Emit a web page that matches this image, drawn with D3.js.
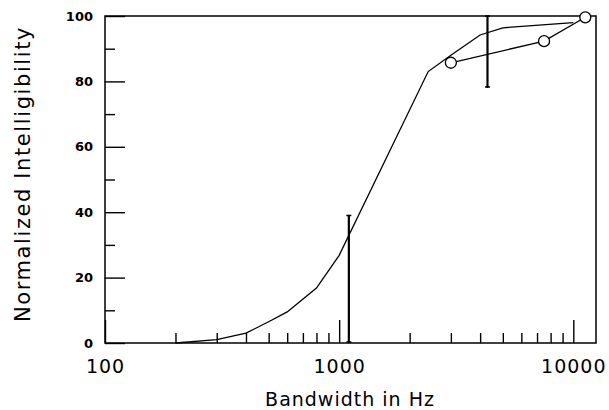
<!DOCTYPE html>
<html>
<head>
<meta charset="utf-8">
<script src="https://cdn.jsdelivr.net/npm/d3@7"></script>
<style>
  html, body { margin: 0; padding: 0; background: #fff; }
  svg { display: block; }
  .axis path.domain { display: none; }
  .axis line { stroke: #000; stroke-width: 1.4px; }
</style>
</head>
<body>
<div id="chart"></div>
<script>
// smooth curve (no markers)
const curveFreq = [200, 300, 400, 500, 600, 800, 1000, 2400, 3000, 4000, 5000, 10000];
const curveVal  = [0, 1, 3, 6.5, 9.5, 16.8, 26.8, 83, 88, 94.2, 96.4, 98];

// series with open circles
const circleFreq = [3000, 7500, 11250];
const circleVal  = [85.7, 92.3, 99.6];

// vertical error bars
const errFreq = [1100, 4300];
const errLow  = [0, 78];
const errHigh = [39, 100];

const xMajor = [100, 1000, 10000];
const xMinor = [200, 300, 400, 500, 600, 700, 800, 900,
                2000, 3000, 4000, 5000, 6000, 7000, 8000, 9000];
const yMajor = [0, 20, 40, 60, 80, 100];
const yMinor = [10, 30, 50, 70, 90];

const width = 609, height = 410;
const x0 = 105, x1 = 596, yTop = 16, yBot = 343;

const svg = d3.select('#chart').append('svg')
  .attr('width', width)
  .attr('height', height);

const x = d3.scaleLog().domain([100, 12500]).range([x0, x1]);
const y = d3.scaleLinear().domain([0, 100]).range([yBot, yTop]);

// minor x ticks
svg.append('g')
  .attr('class', 'axis')
  .attr('transform', `translate(0,${yBot})`)
  .call(d3.axisBottom(x).tickValues(xMinor).tickSize(-10).tickFormat(''));

// major x ticks + labels
const gx = svg.append('g')
  .attr('class', 'axis')
  .attr('transform', `translate(0,${yBot})`)
  .call(d3.axisBottom(x).tickValues(xMajor).tickSize(-23).tickPadding(17)
    .tickFormat(d3.format('d')));
gx.selectAll('text')
  .attr('fill', '#000')
  .style('font-family', '"DejaVu Sans", sans-serif')
  .style('font-size', '19px')
  .style('letter-spacing', '1px');

// minor y ticks
svg.append('g')
  .attr('class', 'axis')
  .attr('transform', `translate(${x0},0)`)
  .call(d3.axisLeft(y).tickValues(yMinor).tickSize(-10).tickFormat(''));

// major y ticks + labels
const gy = svg.append('g')
  .attr('class', 'axis')
  .attr('transform', `translate(${x0},0)`)
  .call(d3.axisLeft(y).tickValues(yMajor).tickSize(-20).tickPadding(12));
gy.selectAll('text')
  .attr('fill', '#000')
  .style('font-family', '"DejaVu Sans", sans-serif')
  .style('font-weight', 'bold')
  .style('font-size', '13px');

// frame
svg.append('rect')
  .attr('x', x0).attr('y', yTop)
  .attr('width', x1 - x0).attr('height', yBot - yTop)
  .attr('fill', 'none')
  .attr('stroke', '#000')
  .attr('stroke-width', 1.5);

// curve
const line = d3.line().x(d => x(d[0])).y(d => y(d[1]));
svg.append('path')
  .datum(d3.zip(curveFreq, curveVal))
  .attr('d', line)
  .attr('fill', 'none')
  .attr('stroke', '#000')
  .attr('stroke-width', 1.3);

// circle series
svg.append('path')
  .datum(d3.zip(circleFreq, circleVal))
  .attr('d', line)
  .attr('fill', 'none')
  .attr('stroke', '#000')
  .attr('stroke-width', 1.3);

svg.append('g')
  .selectAll('circle')
  .data(d3.zip(circleFreq, circleVal))
  .enter()
  .append('circle')
    .attr('cx', d => x(d[0]))
    .attr('cy', d => y(d[1]))
    .attr('r', 5.5)
    .attr('fill', '#fff')
    .attr('stroke', '#000')
    .attr('stroke-width', 1.3);

// error bars
const errs = errFreq.map((f, i) => ({ f, lo: errLow[i], hi: errHigh[i] }));
const gErr = svg.append('g').selectAll('g')
  .data(errs)
  .enter()
  .append('g');

gErr.append('line')
  .attr('x1', d => x(d.f)).attr('x2', d => x(d.f))
  .attr('y1', d => y(d.lo)).attr('y2', d => y(d.hi))
  .attr('stroke', '#000')
  .attr('stroke-width', 2.2);

gErr.append('line')
  .attr('x1', d => x(d.f) - 2.5).attr('x2', d => x(d.f) + 2.5)
  .attr('y1', d => y(d.hi)).attr('y2', d => y(d.hi))
  .attr('stroke', '#000')
  .attr('stroke-width', 1.5);

gErr.append('line')
  .attr('x1', d => x(d.f) - 2.5).attr('x2', d => x(d.f) + 2.5)
  .attr('y1', d => y(d.lo) - 1).attr('y2', d => y(d.lo) - 1)
  .attr('stroke', '#000')
  .attr('stroke-width', 1.5);

// axis titles
svg.append('text')
  .attr('x', 350)
  .attr('y', 406)
  .attr('text-anchor', 'middle')
  .style('font-family', '"DejaVu Sans", sans-serif')
  .style('font-size', '19px')
  .style('letter-spacing', '1px')
  .text('Bandwidth in Hz');

svg.append('text')
  .attr('transform', 'translate(30,174) rotate(-90)')
  .attr('text-anchor', 'middle')
  .style('font-family', '"DejaVu Sans", sans-serif')
  .style('font-size', '21px')
  .style('letter-spacing', '1.6px')
  .text('Normalized Intelligibility');
</script>
</body>
</html>
